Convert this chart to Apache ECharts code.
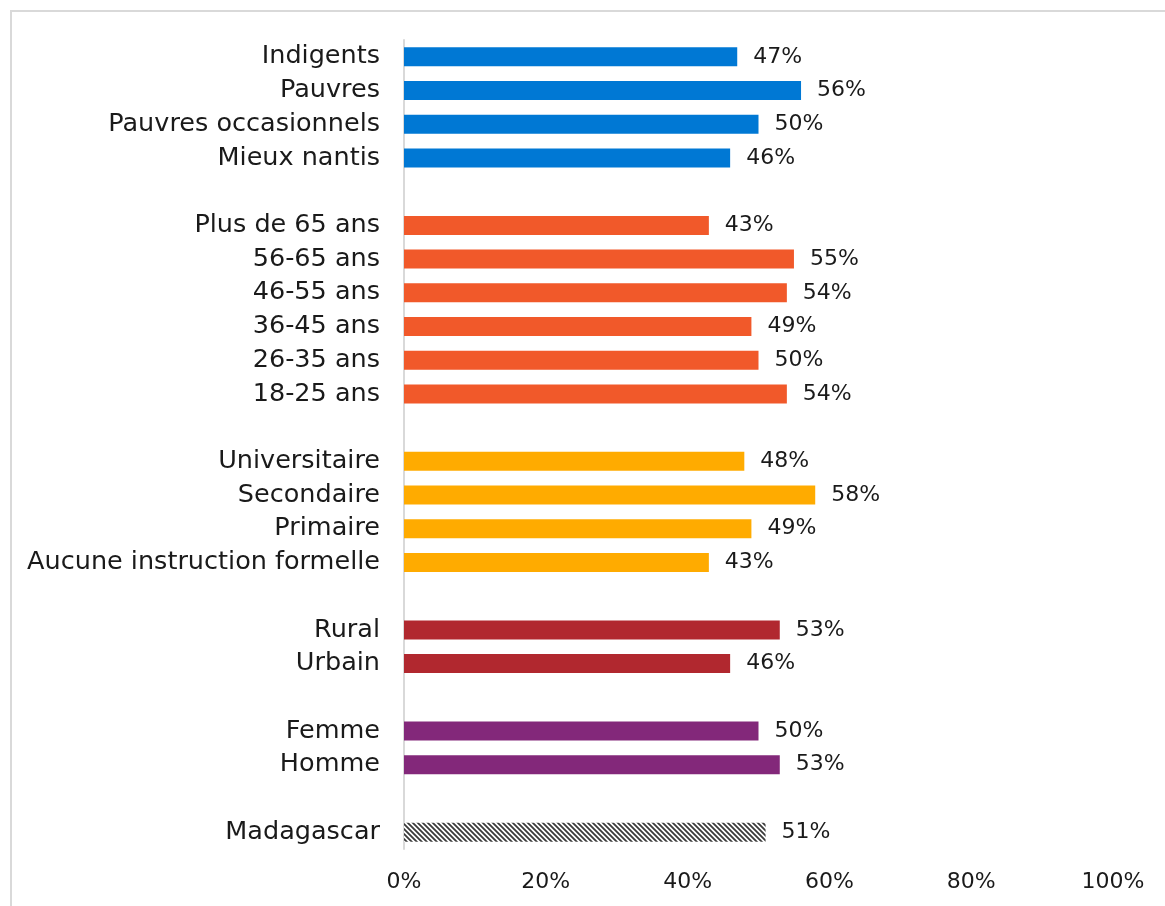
<!DOCTYPE html>
<html>
<head>
<meta charset="utf-8">
<script src="https://cdn.jsdelivr.net/npm/echarts@6/dist/echarts.min.js"></script>
<style>
  html, body { margin: 0; padding: 0; background: #fff; overflow: hidden; }
  #chart { width: 1165px; height: 906px; }
</style>
</head>
<body>
<div id="chart"></div>
<script>
// Groups of categories, top to bottom, with their shares (%)
const wealthCats = ['Indigents', 'Pauvres', 'Pauvres occasionnels', 'Mieux nantis'];
const wealthVals = [47, 56, 50, 46];
const ageCats = ['Plus de 65 ans', '56-65 ans', '46-55 ans', '36-45 ans', '26-35 ans', '18-25 ans'];
const ageVals = [43, 55, 54, 49, 50, 54];
const eduCats = ['Universitaire', 'Secondaire', 'Primaire', 'Aucune instruction formelle'];
const eduVals = [48, 58, 49, 43];
const areaCats = ['Rural', 'Urbain'];
const areaVals = [53, 46];
const sexCats = ['Femme', 'Homme'];
const sexVals = [50, 53];
const nationalCats = ['Madagascar'];
const nationalVals = [51];
const xTicks = [0, 20, 40, 60, 80, 100];

// Diagonal hatch used for the national bar
function hatch() {
  const c = document.createElement('canvas');
  c.width = 5; c.height = 5;
  const g = c.getContext('2d');
  g.fillStyle = '#ffffff';
  g.fillRect(0, 0, 5, 5);
  g.strokeStyle = '#3a3a3a';
  g.lineWidth = 1.8;
  g.beginPath();
  g.moveTo(-1, -1); g.lineTo(6, 6);
  g.moveTo(-6, -1); g.lineTo(1, 6);
  g.moveTo(4, -1); g.lineTo(11, 6);
  g.stroke();
  return { image: c, repeat: 'repeat' };
}

const groups = [
  { cats: wealthCats, vals: wealthVals, color: '#0078d4' },
  { cats: ageCats, vals: ageVals, color: '#f1592a' },
  { cats: eduCats, vals: eduVals, color: '#ffab00' },
  { cats: areaCats, vals: areaVals, color: '#b1282f' },
  { cats: sexCats, vals: sexVals, color: '#83287a' },
  { cats: nationalCats, vals: nationalVals, color: hatch() }
];

const categories = [];
const data = [];
groups.forEach((grp, gi) => {
  if (gi > 0) {
    categories.push('_sep' + gi);
    data.push(null);
  }
  grp.cats.forEach((c, i) => {
    categories.push(c);
    data.push({ value: grp.vals[i], itemStyle: { color: grp.color } });
  });
});

const FONT = 'DejaVu Sans';
const chart = echarts.init(document.getElementById('chart'));
chart.setOption({
  animation: false,
  // chart-area frame: only its left and top edges fall inside the page
  graphic: [{
    type: 'polyline', silent: true,
    shape: { points: [[11, 906], [11, 11], [1165, 11]] },
    style: { stroke: '#d9d9d9', lineWidth: 2, fill: null }
  }],
  grid: { left: 404, right: 52, top: 40, bottom: 57, containLabel: false },
  xAxis: {
    type: 'value', min: 0, max: 100, interval: 20,
    axisLine: { show: false }, axisTick: { show: false },
    splitLine: { show: false },
    axisLabel: { margin: 22, color: '#1a1a1a', fontFamily: FONT, fontSize: 22,
                 formatter: v => xTicks.includes(v) ? v + '%' : '' }
  },
  yAxis: {
    type: 'category', inverse: true, data: categories,
    axisLine: { show: true, lineStyle: { color: '#d9d9d9', width: 2 } },
    axisTick: { show: false },
    axisLabel: { interval: 0, hideOverlap: false, margin: 24, color: '#1a1a1a',
                 fontFamily: FONT, fontSize: 25.5,
                 formatter: v => v.startsWith('_sep') ? '' : v }
  },
  series: [{
    type: 'bar', data: data, barWidth: 19,
    label: { show: true, position: 'right', distance: 16, color: '#1a1a1a',
             fontFamily: FONT, fontSize: 22, formatter: p => p.value + '%' }
  }]
});
</script>
</body>
</html>
